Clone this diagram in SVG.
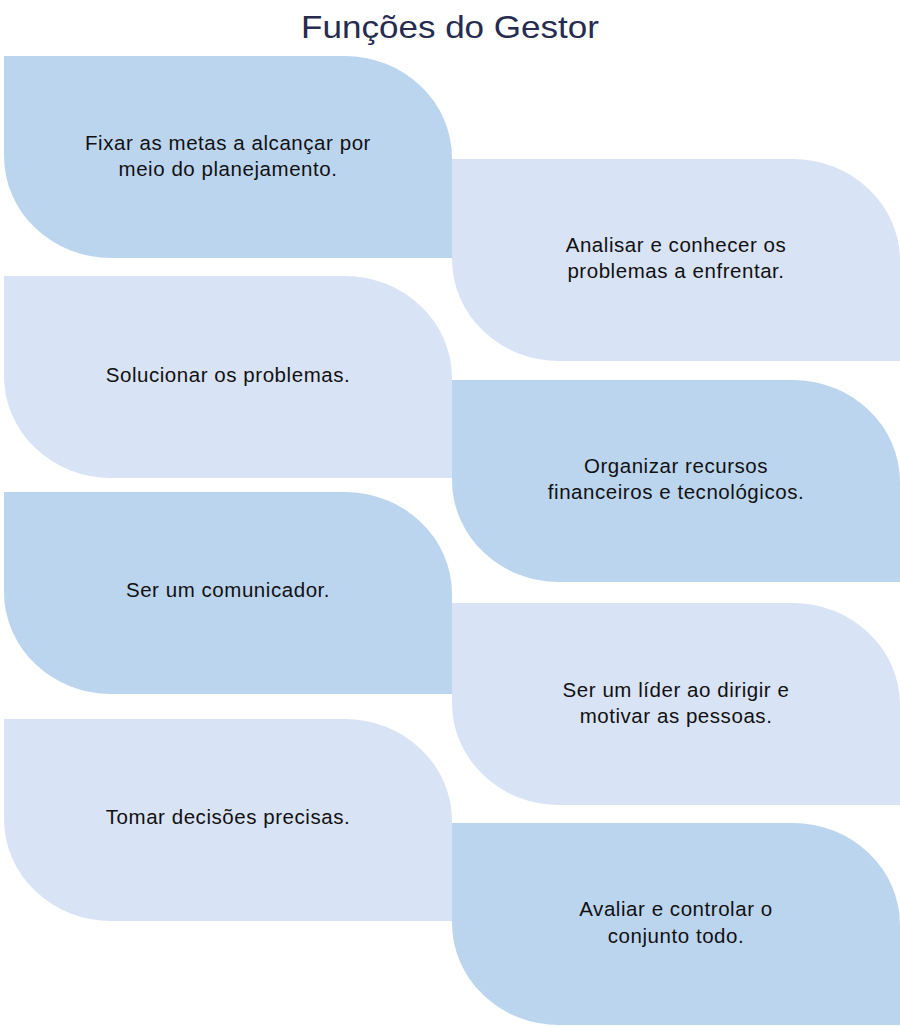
<svg xmlns="http://www.w3.org/2000/svg" width="900" height="1027" viewBox="0 0 900 1027">
<style>
.dark{fill:#BCD5EF}
.light{fill:#D8E3F5}
.t{font-family:"Liberation Sans",Arial,sans-serif;font-size:20.5px;letter-spacing:0.55px;fill:#111111;text-anchor:middle}
.title{font-family:"Liberation Sans",Arial,sans-serif;font-size:32px;fill:#262B50;text-anchor:middle}
</style>
<rect width="900" height="1027" fill="#FFFFFF"/>
<text class="title" x="450" y="38" textLength="298" lengthAdjust="spacingAndGlyphs">Funções do Gestor</text>
<g id="n1">
<path class="dark" d="M4,56 H345 A107 102 0 0 1 452,158 V258 H111 A107 102 0 0 1 4,156 Z"/>
<text class="t" x="228" y="150">Fixar as metas a alcançar por</text>
<text class="t" x="228" y="176">meio do planejamento.</text>
</g>
<g id="n2">
<path class="light" d="M452,159 H793 A107 102 0 0 1 900,261 V361 H559 A107 102 0 0 1 452,259 Z"/>
<text class="t" x="676" y="252">Analisar e conhecer os</text>
<text class="t" x="676" y="278">problemas a enfrentar.</text>
</g>
<g id="n3">
<path class="light" d="M4,276 H345 A107 102 0 0 1 452,378 V478 H111 A107 102 0 0 1 4,376 Z"/>
<text class="t" x="228" y="382">Solucionar os problemas.</text>
</g>
<g id="n4">
<path class="dark" d="M452,380 H793 A107 102 0 0 1 900,482 V582 H559 A107 102 0 0 1 452,480 Z"/>
<text class="t" x="676" y="473">Organizar recursos</text>
<text class="t" x="676" y="499">financeiros e tecnológicos.</text>
</g>
<g id="n5">
<path class="dark" d="M4,492 H345 A107 102 0 0 1 452,594 V694 H111 A107 102 0 0 1 4,592 Z"/>
<text class="t" x="228" y="597">Ser um comunicador.</text>
</g>
<g id="n6">
<path class="light" d="M452,603 H793 A107 102 0 0 1 900,705 V805 H559 A107 102 0 0 1 452,703 Z"/>
<text class="t" x="676" y="697">Ser um líder ao dirigir e</text>
<text class="t" x="676" y="723">motivar as pessoas.</text>
</g>
<g id="n7">
<path class="light" d="M4,719 H345 A107 102 0 0 1 452,821 V921 H111 A107 102 0 0 1 4,819 Z"/>
<text class="t" x="228" y="824">Tomar decisões precisas.</text>
</g>
<g id="n8">
<path class="dark" d="M452,823 H793 A107 102 0 0 1 900,925 V1025 H559 A107 102 0 0 1 452,923 Z"/>
<text class="t" x="676" y="916">Avaliar e controlar o</text>
<text class="t" x="676" y="943">conjunto todo.</text>
</g>
<g id="connectors"></g>
</svg>
